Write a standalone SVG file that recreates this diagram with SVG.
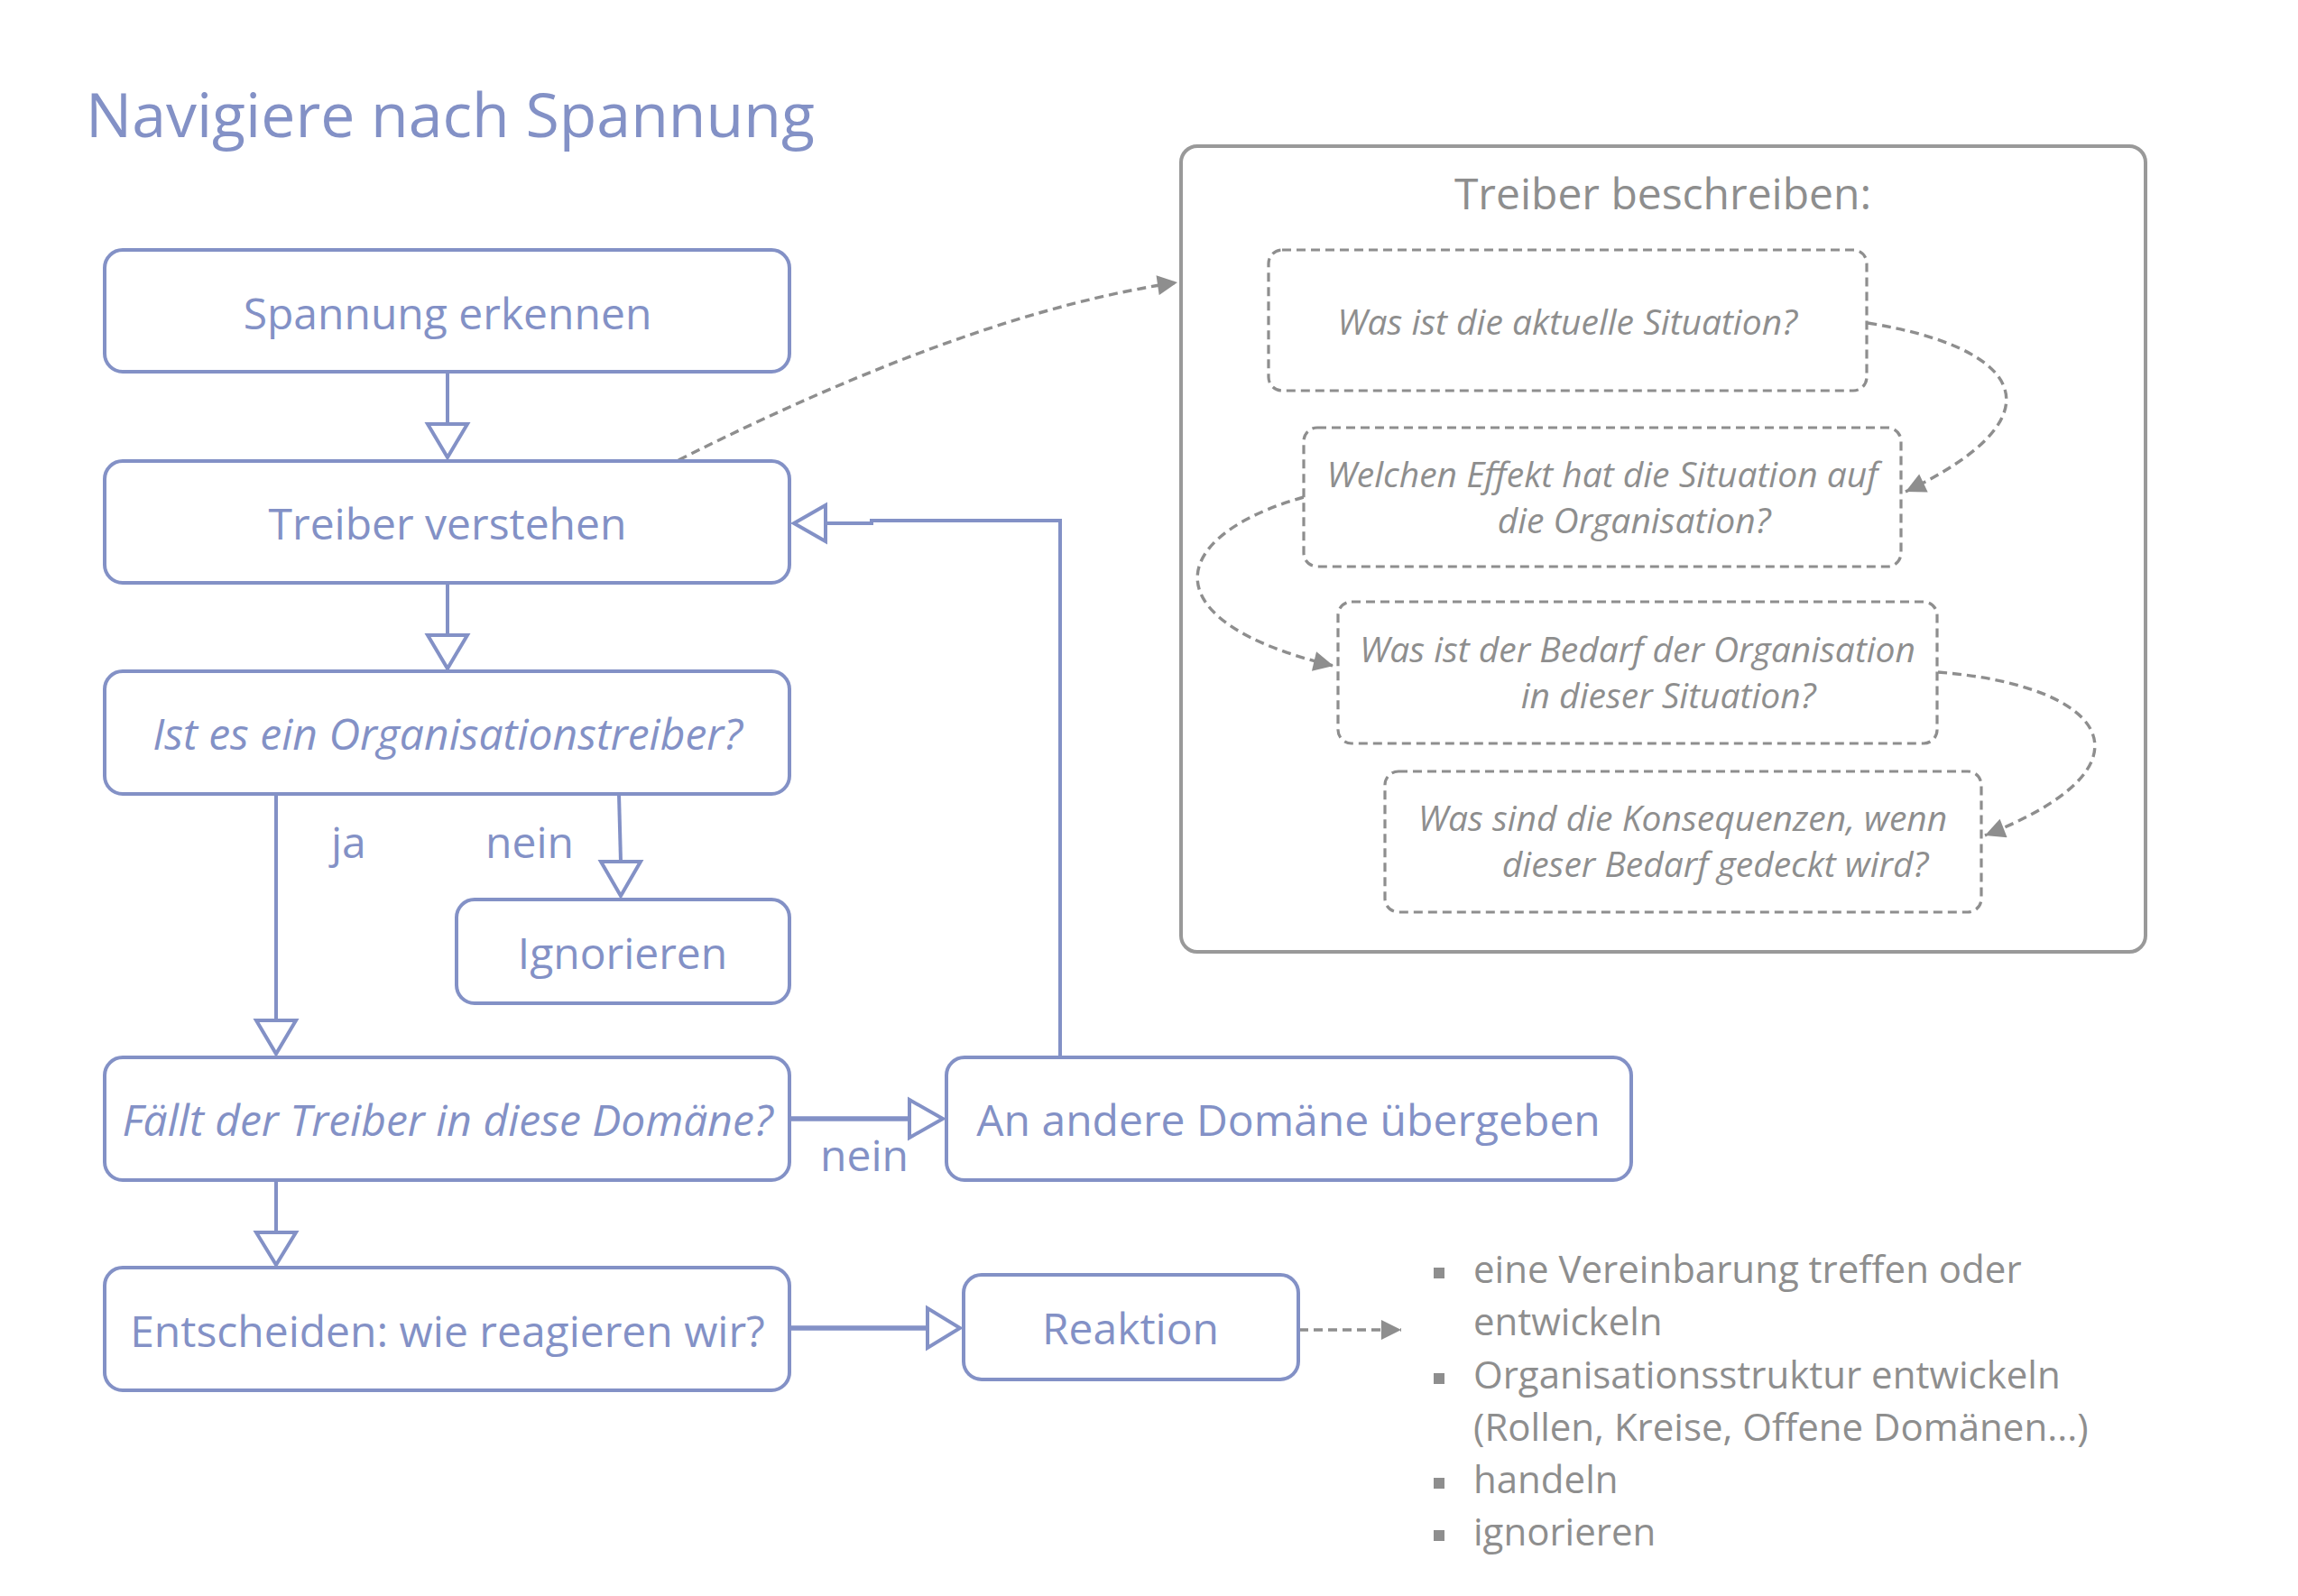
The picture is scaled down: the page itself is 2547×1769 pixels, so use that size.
<svg xmlns="http://www.w3.org/2000/svg" width="2547" height="1769" viewBox="0 0 2547 1769">
<defs>
<style>
.box{fill:#fff;stroke:#8391c6;stroke-width:4}
.t{font-family:"Open Sans","Liberation Sans",sans-serif;font-size:48px;fill:#8391c6;text-anchor:middle}
.i{font-style:italic}
.ln{fill:none;stroke:#8391c6;stroke-width:4}
.lnb{fill:none;stroke:#8391c6;stroke-width:5.5}
.hd{fill:#fff;stroke:#8391c6;stroke-width:4;stroke-linejoin:miter}
.outer{fill:none;stroke:#999;stroke-width:4}
.dbox{fill:#fff;stroke:#8e8e8e;stroke-width:3.2;stroke-dasharray:10 6}
.dl{fill:none;stroke:#8e8e8e;stroke-width:3.4;stroke-dasharray:10 6}
.g{font-family:"Open Sans","Liberation Sans",sans-serif;fill:#8e8e8e}
.q{font-size:39px;font-style:italic;text-anchor:middle}
.li{font-size:42px}
</style>
<marker id="ga" viewBox="0 0 10 10" refX="10" refY="5" markerWidth="8" markerHeight="6.5" markerUnits="strokeWidth" orient="auto">
<path d="M0 0 L10 5 L0 10 z" fill="#8e8e8e"/>
</marker>
</defs>
<rect width="2547" height="1769" fill="#fff"/>
<text x="95" y="152" class="t" style="font-size:68px;text-anchor:start">Navigiere nach Spannung</text>

<g id="outer">
<rect class="outer" x="1309" y="162" width="1069" height="893" rx="18"/>
<text class="g" x="1843" y="232" style="font-size:48px;text-anchor:middle">Treiber beschreiben:</text>
</g>

<g id="connectors">
<path class="dl" d="M752 510 Q1078 346 1305 313" marker-end="url(#ga)"/>
<path class="ln" d="M496 412 V470"/>
<polygon class="hd" points="474,470 518,470 496,507"/>
<path class="ln" d="M496 646 V704"/>
<polygon class="hd" points="474,704 518,704 496,741"/>
<path class="ln" d="M306 880 V1131"/>
<polygon class="hd" points="284,1131 328,1131 306,1168"/>
<path class="ln" d="M686 880 L688 955"/>
<polygon class="hd" points="666,955 710,955 688,993"/>
<path class="ln" d="M306 1308 V1366"/>
<polygon class="hd" points="284,1366 328,1366 306,1402"/>
<path class="lnb" d="M875 1240 H1008"/>
<polygon class="hd" points="1008,1219 1008,1261 1045,1240"/>
<path class="lnb" d="M875 1472 H1028"/>
<polygon class="hd" points="1028,1450 1028,1494 1064,1472"/>
<path class="ln" d="M1175 1171 V577 H966 V580 H915"/>
<polygon class="hd" points="915,560 915,600 880,580"/>
<path class="dl" d="M1440 1474 H1553" marker-end="url(#ga)"/>
<path class="dl" d="M2070 358 C2240 385 2290 460 2112 545" marker-end="url(#ga)"/>
<path class="dl" d="M1445 551 C1290 595 1275 690 1478 738" marker-end="url(#ga)"/>
<path class="dl" d="M2148 745 C2340 760 2395 850 2200 926" marker-end="url(#ga)"/>
</g>

<g id="n1"><rect class="box" x="116" y="277" width="759" height="135" rx="20"/><text class="t" x="496" y="365">Spannung erkennen</text></g>
<g id="n2"><rect class="box" x="116" y="511" width="759" height="135" rx="20"/><text class="t" x="496" y="598">Treiber verstehen</text></g>
<g id="n3"><rect class="box" x="116" y="744" width="759" height="136" rx="20"/><text class="t i" x="496" y="831">Ist es ein Organisationstreiber?</text></g>
<g id="lbl-ja"><text class="t" x="367" y="951" style="text-anchor:start">ja</text></g>
<g id="lbl-nein1"><text class="t" x="538" y="951" style="text-anchor:start">nein</text></g>
<g id="n4"><rect class="box" x="506" y="997" width="369" height="115" rx="20"/><text class="t" x="690" y="1074">Ignorieren</text></g>
<g id="n5"><rect class="box" x="116" y="1172" width="759" height="136" rx="20"/><text class="t i" x="496" y="1259">Fällt der Treiber in diese Domäne?</text></g>
<g id="lbl-nein2"><text class="t" x="909" y="1298" style="text-anchor:start">nein</text></g>
<g id="n6"><rect class="box" x="1049" y="1172" width="759" height="136" rx="20"/><text class="t" x="1428" y="1259">An andere Domäne übergeben</text></g>
<g id="n7"><rect class="box" x="116" y="1405" width="759" height="136" rx="20"/><text class="t" x="496" y="1493">Entscheiden: wie reagieren wir?</text></g>
<g id="n8"><rect class="box" x="1068" y="1413" width="371" height="116" rx="20"/><text class="t" x="1253" y="1490">Reaktion</text></g>

<g id="q1"><rect class="dbox" x="1406" y="277" width="663" height="156" rx="15"/><text class="g q" x="1737" y="371">Was ist die aktuelle Situation?</text></g>
<g id="q2"><rect class="dbox" x="1445" y="474" width="662" height="154" rx="15"/><text class="g q" x="1776" y="540">Welchen Effekt hat die Situation auf</text><text class="g q" x="1811" y="591">die Organisation?</text></g>
<g id="q3"><rect class="dbox" x="1483" y="667" width="664" height="157" rx="15"/><text class="g q" x="1815" y="734">Was ist der Bedarf der Organisation</text><text class="g q" x="1849" y="785">in dieser Situation?</text></g>
<g id="q4"><rect class="dbox" x="1535" y="855" width="661" height="156" rx="15"/><text class="g q" x="1865" y="921">Was sind die Konsequenzen, wenn</text><text class="g q" x="1901" y="972">dieser Bedarf gedeckt wird?</text></g>

<g id="list">
<rect x="1589" y="1405" width="12" height="12" fill="#8e8e8e"/>
<rect x="1589" y="1522" width="12" height="12" fill="#8e8e8e"/>
<rect x="1589" y="1638" width="12" height="12" fill="#8e8e8e"/>
<rect x="1589" y="1696" width="12" height="12" fill="#8e8e8e"/>
<text class="g li" x="1633" y="1422">eine Vereinbarung treffen oder</text>
<text class="g li" x="1633" y="1480">entwickeln</text>
<text class="g li" x="1633" y="1539">Organisationsstruktur entwickeln</text>
<text class="g li" x="1633" y="1597">(Rollen, Kreise, Offene Domänen...)</text>
<text class="g li" x="1633" y="1655">handeln</text>
<text class="g li" x="1633" y="1713">ignorieren</text>
</g>
</svg>
